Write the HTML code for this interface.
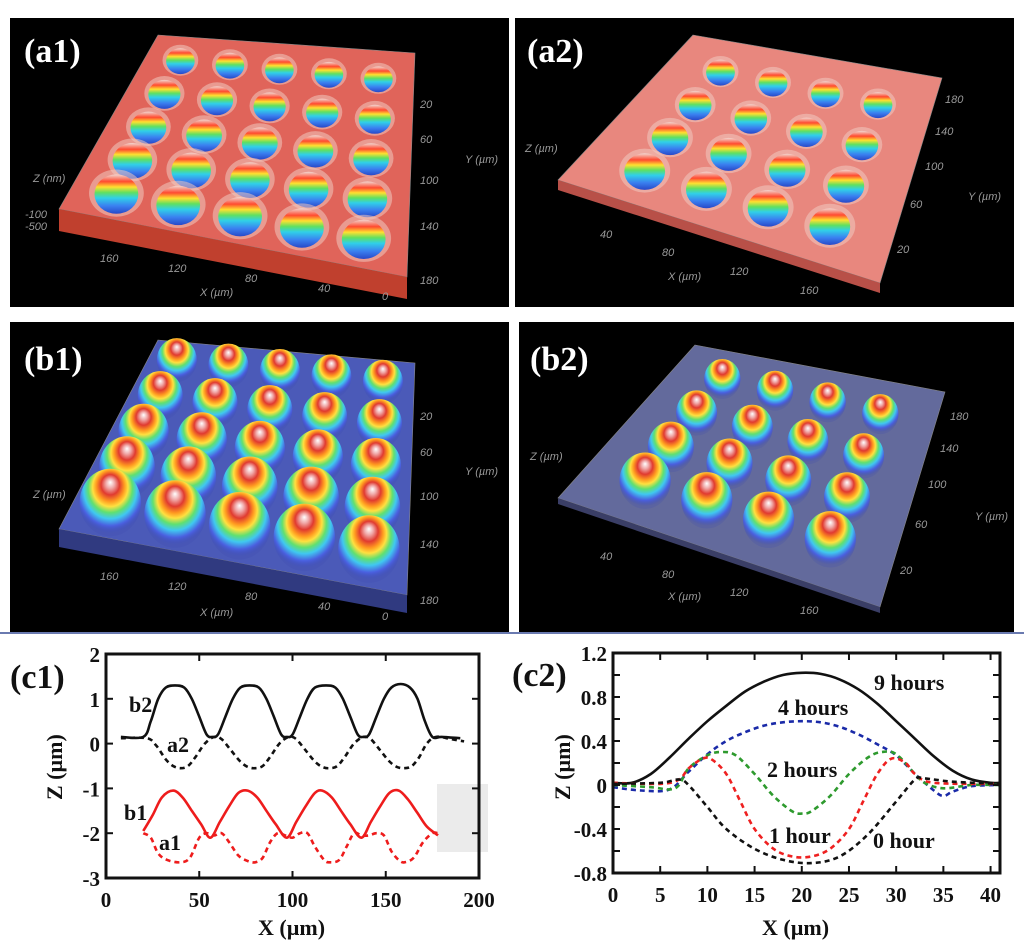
<!DOCTYPE html>
<html><head><meta charset="utf-8"><style>
body{margin:0;background:#fff;}
svg{display:block;font-family:"Liberation Serif",serif;}
.pl{fill:#fff;font-weight:bold;font-size:34px;}
.ax{fill:#999;font-family:"Liberation Sans",sans-serif;font-size:11px;font-style:italic;}
.tk{font-weight:bold;font-size:21px;fill:#111;}
.lb{font-weight:bold;font-size:22px;fill:#111;}
</style></head><body>
<svg id="fig" width="1024" height="940" viewBox="0 0 1024 940">
<defs>
<linearGradient id="dimple" x1="0" y1="0" x2="0" y2="1">
<stop offset="0" stop-color="#f2d6d0"/><stop offset="0.18" stop-color="#ff4a30"/><stop offset="0.32" stop-color="#ffe030"/><stop offset="0.46" stop-color="#60e060"/><stop offset="0.6" stop-color="#30d0e8"/><stop offset="0.8" stop-color="#3a80f0"/><stop offset="1" stop-color="#2848c8"/>
</linearGradient>
<radialGradient id="bump" cx="0.5" cy="0.35" r="0.6" fx="0.5" fy="0.2">
<stop offset="0" stop-color="#ffffff"/><stop offset="0.12" stop-color="#f0a8a8"/><stop offset="0.25" stop-color="#e03a30"/><stop offset="0.38" stop-color="#ff9a20"/><stop offset="0.48" stop-color="#ffe040"/><stop offset="0.6" stop-color="#60e070"/><stop offset="0.72" stop-color="#40c8f0"/><stop offset="0.86" stop-color="#4a60e0"/><stop offset="1" stop-color="#3a48b0" stop-opacity="0.2"/>
</radialGradient>
</defs>
<rect x="10" y="18" width="499" height="289" fill="#000"/>
<rect x="515" y="18" width="499" height="289" fill="#000"/>
<rect x="10" y="322" width="499" height="310" fill="#000"/>
<rect x="519" y="322" width="495" height="310" fill="#000"/>
<g id="surf"></g>
<text class="pl" x="24" y="62">(a1)</text>
<text class="pl" x="527" y="62">(a2)</text>
<text class="pl" x="24" y="370">(b1)</text>
<text class="pl" x="530" y="370">(b2)</text>
<g class="ax">
<text x="33" y="182">Z (nm)</text>
<text x="200" y="296">X (µm)</text>
<text x="465" y="163">Y (µm)</text>
<text x="100" y="262">160</text><text x="168" y="272">120</text><text x="245" y="282">80</text><text x="318" y="292">40</text><text x="382" y="300">0</text>
<text x="420" y="108">20</text><text x="420" y="143">60</text><text x="420" y="184">100</text><text x="420" y="230">140</text><text x="420" y="284">180</text>
<text x="25" y="218">-100</text><text x="25" y="230">-500</text>
<text x="525" y="152">Z (µm)</text>
<text x="668" y="280">X (µm)</text>
<text x="968" y="200">Y (µm)</text>
<text x="600" y="238">40</text><text x="662" y="256">80</text><text x="730" y="275">120</text><text x="800" y="294">160</text>
<text x="945" y="103">180</text><text x="935" y="135">140</text><text x="925" y="170">100</text><text x="910" y="208">60</text><text x="897" y="253">20</text>
<text x="33" y="498">Z (µm)</text>
<text x="200" y="616">X (µm)</text>
<text x="465" y="475">Y (µm)</text>
<text x="100" y="580">160</text><text x="168" y="590">120</text><text x="245" y="600">80</text><text x="318" y="610">40</text><text x="382" y="620">0</text>
<text x="420" y="420">20</text><text x="420" y="456">60</text><text x="420" y="500">100</text><text x="420" y="548">140</text><text x="420" y="604">180</text>
<text x="530" y="460">Z (µm)</text>
<text x="668" y="600">X (µm)</text>
<text x="975" y="520">Y (µm)</text>
<text x="600" y="560">40</text><text x="662" y="578">80</text><text x="730" y="596">120</text><text x="800" y="614">160</text>
<text x="950" y="420">180</text><text x="940" y="452">140</text><text x="928" y="488">100</text><text x="915" y="528">60</text><text x="900" y="574">20</text>
</g>
<line x1="0" y1="633" x2="1024" y2="633" stroke="#6a7ab0" stroke-width="2"/>
<rect x="437" y="784" width="51" height="68" fill="#ebebeb"/>
<g id="c1"></g>
<g id="c2"></g>
<text class="pl" style="fill:#111" x="10" y="688">(c1)</text>
<text class="pl" style="fill:#111" x="512" y="686">(c2)</text>
</svg>
<script>
// ---------- chart c1 data ----------
const c1_b2_x=[8,20,24,28,32,37,42,46,50,54,57,60,64,68,72,77,82,86,90,94,97,100,104,108,112,118,123,127,131,135,138,141,145,149,153,158,163,167,171,175,180,190];
const c1_b2_y=[0.15,0.15,0.5,1.0,1.25,1.3,1.25,1.0,0.6,0.2,0.15,0.2,0.6,1.0,1.25,1.3,1.25,1.0,0.6,0.2,0.15,0.2,0.6,1.0,1.25,1.3,1.25,1.0,0.6,0.2,0.15,0.2,0.6,1.0,1.25,1.33,1.25,1.0,0.5,0.15,0.15,0.12];
const c1_a2_x=[8,22,27,32,36,40,44,48,53,58,62,67,72,76,80,84,88,93,98,102,107,112,116,120,124,128,133,138,142,147,152,156,160,164,168,172,177,185,192];
const c1_a2_y=[0.12,0.12,-0.05,-0.35,-0.5,-0.55,-0.5,-0.3,0,0.15,0.1,-0.15,-0.4,-0.52,-0.55,-0.5,-0.3,0,0.15,0.1,-0.15,-0.4,-0.52,-0.55,-0.5,-0.3,0,0.15,0.1,-0.15,-0.4,-0.52,-0.55,-0.5,-0.3,0,0.15,0.1,0.05];
const c1_b1_x=[20,25,30,36,41,46,51,56,61,66,71,76,81,86,91,97,102,107,112,116,121,126,131,137,142,147,152,157,162,167,172,178];
const c1_b1_y=[-1.95,-1.6,-1.2,-1.05,-1.2,-1.5,-1.8,-2.1,-1.75,-1.4,-1.1,-1.05,-1.2,-1.5,-1.8,-2.1,-1.75,-1.4,-1.1,-1.05,-1.2,-1.5,-1.8,-2.1,-1.75,-1.4,-1.1,-1.05,-1.25,-1.55,-1.85,-2.05];
const c1_a1_x=[20,24,28,33,40,45,50,54,58,62,66,71,76,80,84,88,92,96,100,104,108,112,117,120,125,129,133,137,141,145,149,153,157,160,165,170,175,178];
const c1_a1_y=[-2.0,-2.1,-2.45,-2.6,-2.65,-2.55,-2.1,-2.0,-2.05,-2.0,-2.2,-2.5,-2.62,-2.65,-2.55,-2.2,-2.0,-2.05,-2.1,-2.0,-2.0,-2.3,-2.6,-2.65,-2.6,-2.3,-2.0,-2.05,-2.05,-2.0,-2.05,-2.4,-2.6,-2.65,-2.55,-2.2,-2.0,-2.0];
const c1_xticks=[0,50,100,150,200];
const c1_yticks=[2,1,0,-1,-2,-3];
// ---------- chart c2 data ----------
const c2_9h_x=[0,2,4,6,8,10,12,14,16,18,20,22,24,26,28,30,32,34,36,38,40,41];
const c2_9h_y=[0.02,0.02,0.1,0.25,0.42,0.58,0.72,0.85,0.94,1.0,1.02,1.01,0.96,0.87,0.74,0.58,0.42,0.26,0.13,0.05,0.02,0.02];
const c2_4h_x=[0,3,6,8,10,12,14,16,18,20,22,24,26,28,30,32,34,35,36,38,41];
const c2_4h_y=[-0.02,-0.05,-0.04,0.12,0.28,0.4,0.48,0.54,0.57,0.58,0.57,0.53,0.46,0.37,0.27,0.1,-0.05,-0.1,-0.06,-0.01,0];
const c2_2h_x=[0,4,6,7,8,10,11.5,13,15,17,19,20,21,23,25,27,28.5,30,32,33,35,38,41];
const c2_2h_y=[0,-0.02,-0.04,0,0.15,0.27,0.3,0.27,0.1,-0.1,-0.24,-0.26,-0.24,-0.1,0.1,0.25,0.3,0.28,0.1,0.02,-0.03,0,0];
const c2_1h_x=[0,5,7,8,9.5,10.5,12,13.5,15,17,19,21,23,25,26.5,28,29.5,31,32,34,41];
const c2_1h_y=[0.02,0.01,0.05,0.15,0.24,0.23,0.1,-0.15,-0.4,-0.58,-0.65,-0.65,-0.58,-0.4,-0.15,0.1,0.24,0.2,0.1,0.02,0.01];
const c2_0h_x=[0,5,7,8,10,12,15,18,21,24,27,30,32,33,36,41];
const c2_0h_y=[0.01,0.02,0.05,0,-0.2,-0.4,-0.58,-0.68,-0.71,-0.65,-0.45,-0.15,0.05,0.06,0.03,0.01];
const c2_xticks=[0,5,10,15,20,25,30,35,40];
const c2_yticks=[1.2,0.8,0.4,0,-0.4,-0.8];

const NS="http://www.w3.org/2000/svg";
function mk(tag,attrs,parent){const e=document.createElementNS(NS,tag);for(const k in attrs)e.setAttribute(k,attrs[k]);parent.appendChild(e);return e;}
function smooth(pts){let d="M"+pts[0][0].toFixed(1)+","+pts[0][1].toFixed(1);
 for(let i=0;i<pts.length-1;i++){const p0=pts[Math.max(0,i-1)],p1=pts[i],p2=pts[i+1],p3=pts[Math.min(pts.length-1,i+2)];
 const c1x=p1[0]+(p2[0]-p0[0])/6,c1y=p1[1]+(p2[1]-p0[1])/6,c2x=p2[0]-(p3[0]-p1[0])/6,c2y=p2[1]-(p3[1]-p1[1])/6;
 d+=` C${c1x.toFixed(1)},${c1y.toFixed(1)} ${c2x.toFixed(1)},${c2y.toFixed(1)} ${p2[0].toFixed(1)},${p2[1].toFixed(1)}`;}return d;}

function chart(g,L,R,T,B,x0,x1,y0,y1,xticks,yticks,minorY,series){
 const sx=v=>L+(v-x0)/(x1-x0)*(R-L), sy=v=>B-(v-y0)/(y1-y0)*(B-T);
 series.forEach(s=>{const pts=s.x.map((xv,i)=>[sx(xv),sy(s.y[i])]);
  const p=mk("path",{d:smooth(pts),fill:"none",stroke:s.c,"stroke-width":2.6,"stroke-dasharray":s.dash||"none"},g);
  
  });
 const fr=mk("rect",{x:L,y:T,width:R-L,height:B-T,fill:"none",stroke:"#111","stroke-width":3},g);
 
 
 xticks.forEach(v=>{const X=sx(v);mk("line",{x1:X,y1:B,x2:X,y2:B-7,stroke:"#111","stroke-width":2},g);mk("line",{x1:X,y1:T,x2:X,y2:T+7,stroke:"#111","stroke-width":2},g);
  const t=mk("text",{x:X,y:B+29,"text-anchor":"middle",class:"tk"},g);t.textContent=v;
  
  });
 yticks.concat(minorY).forEach(v=>{const Y=sy(v);mk("line",{x1:L,y1:Y,x2:L+7,y2:Y,stroke:"#111","stroke-width":2},g);mk("line",{x1:R,y1:Y,x2:R-7,y2:Y,stroke:"#111","stroke-width":2},g);});
 yticks.forEach(v=>{const t=mk("text",{x:L-6,y:sy(v)+8,"text-anchor":"end",class:"tk"},g);t.textContent=v;
  
  });
 return {sx,sy};
}
const g1=document.getElementById("c1");
chart(g1,106,479,654,878,0,200,-3,2,c1_xticks,c1_yticks,[],[
 {x:c1_b2_x,y:c1_b2_y,c:"#111",name:"series-b2"},
 {x:c1_a2_x,y:c1_a2_y,c:"#111",dash:"5,4",name:"series-a2"},
 {x:c1_b1_x,y:c1_b1_y,c:"#ee1c1c",name:"series-b1"},
 {x:c1_a1_x,y:c1_a1_y,c:"#ee1c1c",dash:"5,4",name:"series-a1"}]);
const g2=document.getElementById("c2");
chart(g2,613,1000,653,873,0,41,-0.8,1.2,c2_xticks,c2_yticks,[1.0,0.6,0.2,-0.2,-0.6],[
 {x:c2_9h_x,y:c2_9h_y,c:"#111",name:"series-9-hours"},
 {x:c2_4h_x,y:c2_4h_y,c:"#1a2aa8",dash:"5,4",name:"series-4-hours"},
 {x:c2_2h_x,y:c2_2h_y,c:"#2e9a2e",dash:"5,4",name:"series-2-hours"},
 {x:c2_1h_x,y:c2_1h_y,c:"#ee2020",dash:"5,4",name:"series-1-hour"},
 {x:c2_0h_x,y:c2_0h_y,c:"#111",dash:"5,4",name:"series-0-hour"}]);
function txt(g,x,y,s,cls,name,extra){const t=mk("text",Object.assign({x:x,y:y,class:cls},extra||{}),g);t.textContent=s;
 
 return t;}
txt(g1,129,712,"b2","lb","annot-b2");txt(g1,167,752,"a2","lb","annot-a2");txt(g1,124,820,"b1","lb","annot-b1");txt(g1,159,850,"a1","lb","annot-a1");
txt(g1,258,935,"X (µm)","lb","x-axis-title-c1");
txt(g1,0,0,"Z (µm)","lb","y-axis-title-c1",{transform:"translate(62,800) rotate(-90)"});
txt(g2,874,690,"9 hours","lb","annot-9-hours");txt(g2,778,715,"4 hours","lb","annot-4-hours");txt(g2,767,777,"2 hours","lb","annot-2-hours");
txt(g2,769,843,"1 hour","lb","annot-1-hour");txt(g2,873,848,"0 hour","lb","annot-0-hour");
txt(g2,762,935,"X (µm)","lb","x-axis-title-c2");
txt(g2,0,0,"Z (µm)","lb","y-axis-title-c2",{transform:"translate(570,800) rotate(-90)"});

// ---------- 3D surfaces ----------
const S=document.getElementById("surf");
function bil(P,u,v){const [a,b,c,d]=P;return [a[0]*(1-u)*(1-v)+b[0]*u*(1-v)+c[0]*u*v+d[0]*(1-u)*v, a[1]*(1-u)*(1-v)+b[1]*u*(1-v)+c[1]*u*v+d[1]*(1-u)*v];}
function surface(name,P,fill,edge,thick,n,m,grad,kind,off,k){
 const poly=mk("polygon",{points:P.map(p=>p.join(",")).join(" "),fill:fill,stroke:"#888","stroke-width":0.6},S);
 
 
 if(thick){const f=mk("polygon",{points:[P[3],P[2],[P[2][0],P[2][1]+thick],[P[3][0],P[3][1]+thick]].map(p=>p.join(",")).join(" "),fill:edge},S);
  
  }
 for(let j=0;j<m;j++)for(let i=0;i<n;i++){
  const u=off[0]+(i+0.5)*(1-2*off[0])/n, v=off[1]+(j+0.5)*(1-2*off[1])/m;
  const c=bil(P,u,v);
  const w=Math.hypot(P[1][0]-P[0][0],P[1][1]-P[0][1])*(1-v)+Math.hypot(P[2][0]-P[3][0],P[2][1]-P[3][1])*v;
  const rx=w/n*k*(0.85+0.25*v), ry=rx*(kind==="bump"?1.1:0.9);
  if(kind!=="bump"){const r=mk("ellipse",{cx:c[0].toFixed(1),cy:(c[1]-1).toFixed(1),rx:(rx*1.25).toFixed(1),ry:(ry*1.2).toFixed(1),fill:"#f0c8c0",opacity:0.55},S);
   
   }
  const e=mk("ellipse",{cx:c[0].toFixed(1),cy:(c[1]-(kind==="bump"?ry*0.3:0)).toFixed(1),rx:rx.toFixed(1),ry:ry.toFixed(1),fill:grad},S);
  
  
 }
}
surface("a1",[[158,35],[415,53],[407,277],[59,209]],"#e0645a","#c0402e",22,5,5,"url(#dimple)","grid",[0.04,0.04],0.3);
surface("a2",[[693,35],[942,78],[880,283],[558,180]],"#e8877e","#b85048",10,4,4,"url(#dimple)","grid",[0.1,0.08],0.24);
surface("b1",[[158,340],[415,363],[407,595],[59,529]],"#4b5ab8","#303a80",18,5,5,"url(#bump)","bump",[0.02,0.03],0.42);
surface("b2",[[695,345],[945,392],[880,607],[558,498]],"#636a9c","#3a3e66",6,4,4,"url(#bump)","bump",[0.1,0.08],0.3);
</script>
</body></html>
